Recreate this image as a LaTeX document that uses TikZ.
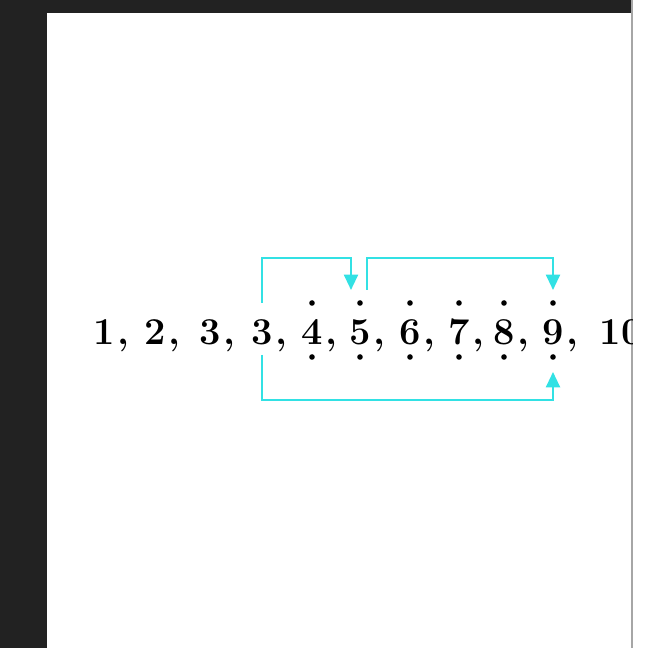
\documentclass[tikz,border=0pt]{standalone}
\usepackage{xcolor}
\usepackage{tikz}
\usetikzlibrary{positioning, arrows.meta, calc}

\definecolor{linkcyan}{RGB}{50,225,228}
\definecolor{frame}{RGB}{34,34,34}

\begin{document}
\begin{tikzpicture}[
    x=0.025cm, y=0.025cm,
    num/.style={inner sep=0pt, anchor=base, font=\fontsize{27}{33}\selectfont\bfseries},
    sep/.style={inner sep=0pt, anchor=base west, xshift=1.5pt, font=\fontsize{27}{33}\selectfont\bfseries},
    link/.style={linkcyan, line width=1.6pt},
    arrow/.style={link, -{Triangle[width=10pt, length=11pt]}}
]

% page frame
\useasboundingbox (0,0) rectangle (665,648);
\fill[white] (0,0) rectangle (665,648);
\fill[frame] (0,0) rectangle (47,648);
\fill[frame] (0,635) rectangle (632,648);
\draw[gray!70, line width=0.8pt] (632,0) -- (632,648);

% the sequence
\begin{scope}
\clip (47,0) rectangle (632,635);
\foreach \v/\x [count=\i] in {1/104, 2/155, 3/210, 3/262, 4/312, 5/360, 6/410, 7/459, 8/504, 9/553, 10/621} {
    \node[num] (n\i) at (\x,303) {\v};
    \node[sep] (c\i) at (n\i.base east) {,};
}
\end{scope}

% dots over and under 4 ... 9
\foreach \i in {5,...,10} {
    \fill ($(n\i.base)+(0,42)$) circle (2.8);
    \fill ($(n\i.base)+(0,-12)$) circle (2.8);
}

\draw[arrow] ($(n4.base)+(0,42)$) -- ($(n4.base)+(0,87)$) -| ($(n6.base)+(-9,55)$);
\draw[arrow] ($(n6.base)+(7,55)$) -- ($(n6.base)+(7,87)$) -| ($(n10.base)+(0,55)$);
\draw[arrow] ($(n4.base)+(0,-10)$) -- ($(n4.base)+(0,-55)$) -| ($(n10.base)+(0,-27)$);
\end{tikzpicture}
\end{document}
